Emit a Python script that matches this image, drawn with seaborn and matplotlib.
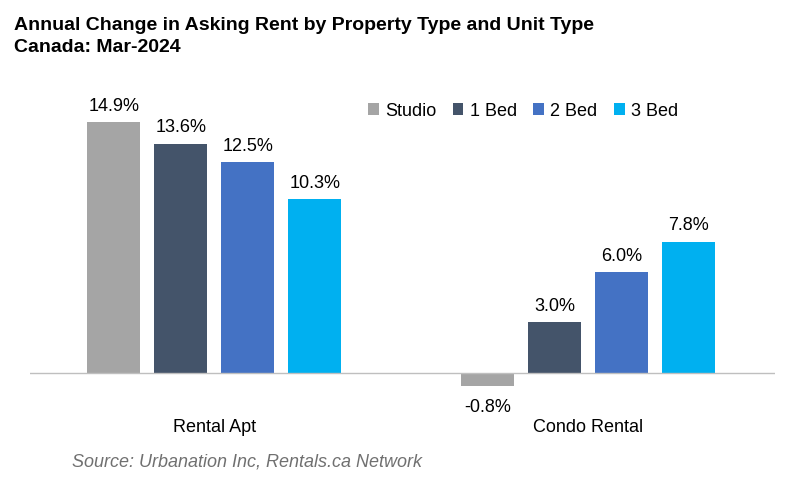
import matplotlib
matplotlib.use("Agg")
import matplotlib.pyplot as plt
import pandas as pd
import seaborn as sns

# Data
properties = ["Rental Apt", "Condo Rental"]
units = ["Studio", "1 Bed", "2 Bed", "3 Bed"]
rental_apt = [14.9, 13.6, 12.5, 10.3]
condo_rental = [-0.8, 3.0, 6.0, 7.8]
colors = ["#A5A5A5", "#44546A", "#4472C4", "#00B0F0"]

rows = []
for u, a, c in zip(units, rental_apt, condo_rental):
    rows.append({"prop": "Rental Apt", "unit": u, "value": a})
    rows.append({"prop": "Condo Rental", "unit": u, "value": c})
df = pd.DataFrame(rows)

plt.rcParams["font.family"] = "Liberation Sans"
W, H = 800, 481
fig = plt.figure(figsize=(8, 4.81), dpi=100)
ax = fig.add_axes([30 / W, 1 - 400 / H, 745 / W, 310 / H])

sns.barplot(data=df, x="prop", y="value", hue="unit", order=properties,
            hue_order=units, palette=colors, width=0.717, gap=0.21,
            saturation=1, ax=ax)

ax.set_xlim(-0.493, 1.499)
ax.set_ylim(-1.543, 16.85)
ax.axhline(0, color="#BFBFBF", lw=1)
for s in ax.spines.values():
    s.set_visible(False)
ax.set_xticks([])
ax.set_yticks([])
ax.set_xlabel("")
ax.set_ylabel("")

for cont in ax.containers:
    for bar in cont:
        v = bar.get_height()
        x = bar.get_x() + bar.get_width() / 2
        if v >= 0:
            ax.annotate(f"{v:.1f}%", (x, v), xytext=(0, 6), textcoords="offset points",
                        ha="center", va="bottom", fontsize=13)
        else:
            ax.annotate(f"{v:.1f}%", (x, v), xytext=(0, -8), textcoords="offset points",
                        ha="center", va="top", fontsize=13)

for i, p in enumerate(properties):
    ax.text(i, -3.2, p, ha="center", va="center", fontsize=13)

ax.legend(loc="center", bbox_to_anchor=(493 / 745, 1 - (112 - 90) / 310), ncol=4,
          frameon=False, fontsize=13, handlelength=0.6, handleheight=0.6,
          handletextpad=0.35, columnspacing=0.9)

fig.text(14 / W, 1 - 26 / H, "Annual Change in Asking Rent by Property Type and Unit Type",
         fontsize=14, fontweight="bold", va="center")
fig.text(14 / W, 1 - 47 / H, "Canada: Mar-2024", fontsize=14, fontweight="bold", va="center")
fig.text(72 / W, 1 - 462 / H, "Source: Urbanation Inc, Rentals.ca Network",
         fontsize=13, style="italic", color="#707070", va="center")

fig.savefig("out.png", dpi=100)
